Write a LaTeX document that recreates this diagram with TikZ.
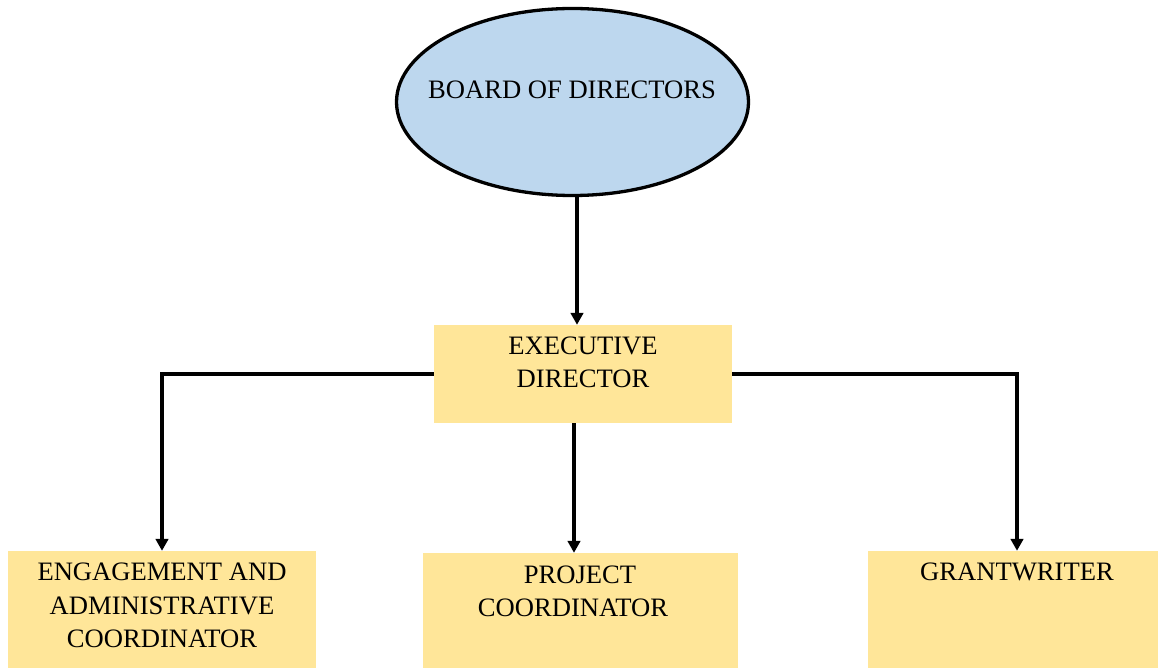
\documentclass[tikz,border=0pt]{standalone}
\usepackage{fontspec}
\setmainfont{Liberation Serif}
\usetikzlibrary{shapes.geometric,arrows.meta}
\definecolor{boardblue}{HTML}{BDD7EE}
\definecolor{boxyellow}{HTML}{FFE699}
\begin{document}
\begin{tikzpicture}[x=1pt,y=-1pt,
  boardst/.style={ellipse,draw=black,line width=3.3pt,fill=boardblue,inner sep=0pt,minimum width=352pt,minimum height=187pt},
  rolebox/.style={rectangle,fill=boxyellow,draw=none,inner sep=0pt},
  lbl/.style={anchor=base,inner sep=0pt,text=black,font=\fontsize{26.6}{31}\selectfont},
  conn/.style={line width=3.3pt,-{Triangle[length=12pt,width=12.5pt]}}]
\useasboundingbox (0,0) rectangle (1158,668);
% shapes
\node[boardst] (board) at (572.5,102) {};
\node[rolebox,minimum width=298pt,minimum height=98pt] (ed) at (583,374) {};
\node[rolebox,minimum width=308pt,minimum height=149pt] (ea) at (162,625.5) {};
\node[rolebox,minimum width=315pt,minimum height=147pt] (pc) at (580.5,626.5) {};
\node[rolebox,minimum width=298pt,minimum height=149pt] (gw) at (1017,625.5) {};
% texts
\node[lbl] (boardt) at (572,99) {BOARD OF DIRECTORS};
\node[lbl] (edt1) at (583,354) {EXECUTIVE};
\node[lbl] (edt2) at (583,387) {DIRECTOR};
\node[lbl] (eat1) at (162,580) {ENGAGEMENT AND};
\node[lbl] (eat2) at (162,614) {ADMINISTRATIVE};
\node[lbl] (eat3) at (162,647.5) {COORDINATOR};
\node[lbl] (pct1) at (580,583) {PROJECT};
\node[lbl] (pct2) at (573,616.5) {COORDINATOR};
\node[lbl] (gwt) at (1017,580) {GRANTWRITER};
% connectors
\draw[conn] ([xshift=4.5pt]board.south) -- ([xshift=4.5pt]board.south |- ed.north);
\draw[conn] (ed.west) -| (ea.north);
\draw[conn] (ed.east) -| (gw.north);
\draw[conn] ([xshift=-9pt]ed.south) -- ([xshift=-9pt]ed.south |- pc.north);
\end{tikzpicture}
\end{document}
